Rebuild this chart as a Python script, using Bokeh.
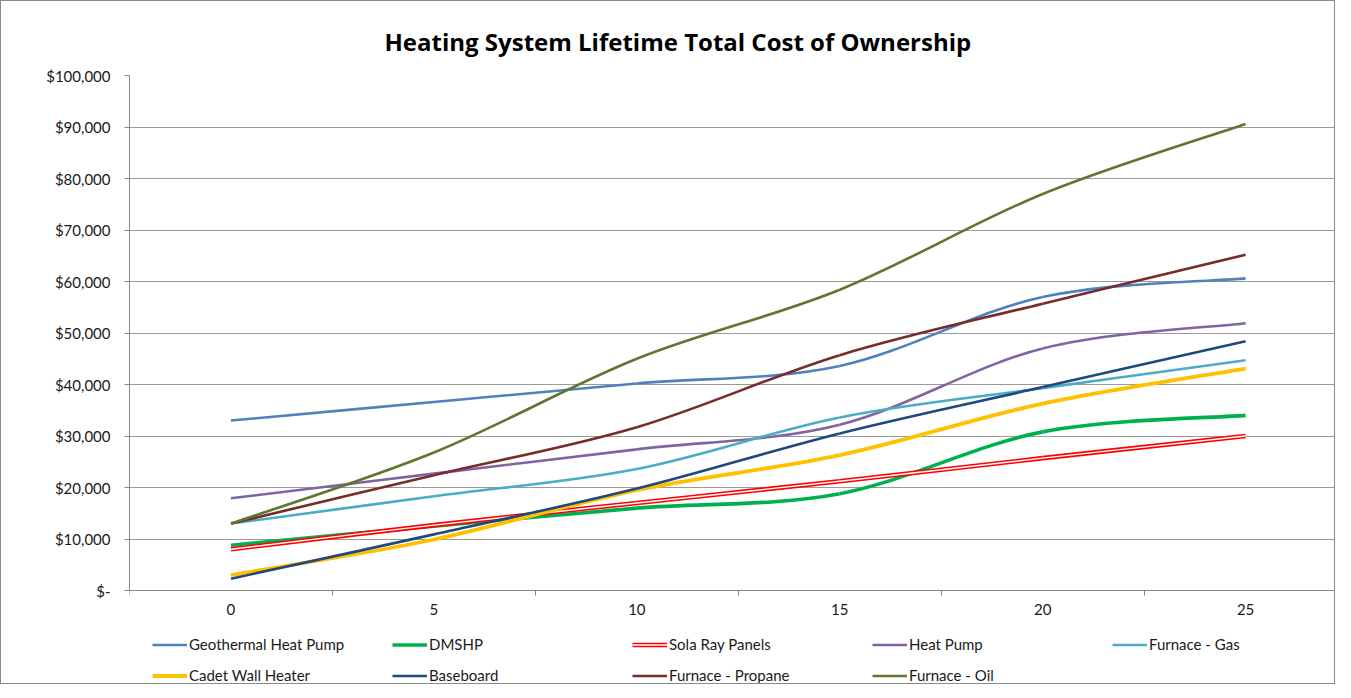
from bokeh.plotting import figure
from bokeh.models import Range1d, FixedTicker, Legend, LegendItem, ColumnDataSource
from bokeh.embed import file_html
from bokeh.resources import INLINE

# ---------------- data ----------------
years = [0, 5, 10, 15, 20, 25]
series_names = ["Geothermal Heat Pump", "DMSHP", "Sola Ray Panels", "Heat Pump", "Furnace - Gas",
                "Cadet Wall Heater", "Baseboard", "Furnace - Propane", "Furnace - Oil"]
geothermal = [33000, 36600, 40200, 43600, 57000, 60600]
dmshp = [8800, 12500, 16000, 18800, 30800, 34000]
sola_ray = [8000, 12700, 17000, 21200, 25700, 30000]
heat_pump = [17900, 22700, 27400, 32200, 47000, 51900]
furnace_gas = [13000, 18300, 23600, 33600, 39300, 44700]
cadet = [3000, 9900, 19500, 26300, 36300, 43100]
baseboard = [2300, 10900, 19800, 30500, 39500, 48400]
propane = [13000, 22400, 31700, 45700, 55700, 65200]
oil = [13000, 26800, 45000, 58400, 77000, 90600]
y_tick_values = [0, 10000, 20000, 30000, 40000, 50000, 60000, 70000, 80000, 90000, 100000]
y_tick_labels = ["$-", "$10,000", "$20,000", "$30,000", "$40,000", "$50,000",
                 "$60,000", "$70,000", "$80,000", "$90,000", "$100,000"]
title_text = "Heating System Lifetime Total Cost of Ownership"

all_values = [geothermal, dmshp, sola_ray, heat_pump, furnace_gas, cadet, baseboard, propane, oil]
colors = ["#4F81BD", "#00B050", "#FF0000", "#8064A2", "#4BACC6", "#FFC000", "#1F497D", "#772C2A", "#5F7530"]
widths = [2.6, 3.6, 4.6, 2.6, 2.6, 3.8, 2.6, 2.6, 2.6]

FONT = "Lato"

# plot geometry (pixels): value axis 0..100000 spans 515 px, legend area below it
FRAME_H, AXIS_H, BELOW_H = 608, 515, 93
Y_LOW = -100000 * BELOW_H / AXIS_H


def smooth_segments(xs, ys):
    """Bezier segments (Excel-like smoothed line) through the given points."""
    n = len(xs)
    d = dict(x0=[], y0=[], x1=[], y1=[], cx0=[], cy0=[], cx1=[], cy1=[])
    for i in range(n - 1):
        a, b = max(i - 1, 0), min(i + 2, n - 1)
        d["x0"].append(xs[i]); d["y0"].append(ys[i])
        d["x1"].append(xs[i + 1]); d["y1"].append(ys[i + 1])
        d["cx0"].append(xs[i] + (xs[i + 1] - xs[a]) / 6.0)
        d["cy0"].append(ys[i] + (ys[i + 1] - ys[a]) / 6.0)
        d["cx1"].append(xs[i + 1] - (xs[b] - xs[i]) / 6.0)
        d["cy1"].append(ys[i + 1] - (ys[b] - ys[i]) / 6.0)
    return ColumnDataSource(d)


p = figure(frame_width=1205, frame_height=FRAME_H, output_backend="svg", toolbar_location=None,
           x_range=Range1d(-2.5, 27.19), y_range=Range1d(Y_LOW, 100000),
           min_border_left=128, min_border_right=0, min_border_top=74, min_border_bottom=0,
           background_fill_color="white", border_fill_color="white",
           styles={"border": "1px solid #8a8a8a"})
p.outline_line_color = None

# title
p.title.text = title_text
p.title.align = "left"
p.title.offset = 255
p.title.standoff = 35
p.title.text_font = "Open Sans"
p.title.text_font_style = "bold"
p.title.text_font_size = "24px"
p.title.text_color = "black"

# axes
p.xaxis.fixed_location = 0
p.xaxis.ticker = FixedTicker(ticks=years, minor_ticks=[t - 2.5 for t in years] + [27.5])
p.xaxis.major_tick_line_color = None
p.xaxis.major_tick_out = 0
p.xaxis.major_tick_in = 0
p.xaxis.minor_tick_out = 5
p.xaxis.minor_tick_in = 0
p.xaxis.minor_tick_line_color = "#868686"
p.xaxis.axis_line_color = "#868686"
p.xaxis.major_label_standoff = 8

p.yaxis.ticker = FixedTicker(ticks=y_tick_values)
p.yaxis.bounds = (0, 100000)
p.yaxis.major_label_overrides = {v: s for v, s in zip(y_tick_values, y_tick_labels)}
p.yaxis.major_tick_out = 5
p.yaxis.major_tick_in = 0
p.yaxis.minor_tick_line_color = None
p.yaxis.major_tick_line_color = "#868686"
p.yaxis.axis_line_color = "#868686"
p.yaxis.major_label_standoff = 14

for ax in (p.xaxis, p.yaxis):
    ax.major_label_text_font = FONT
    ax.major_label_text_font_size = "15px"
    ax.major_label_text_color = "#1a1a1a"

p.xgrid.grid_line_color = None
p.ygrid.ticker = FixedTicker(ticks=y_tick_values)
p.ygrid.grid_line_color = "#9a9a9a"
p.ygrid.grid_line_width = 1

# series
items = []
for name, vals, col, w in zip(series_names, all_values, colors, widths):
    src = smooth_segments(years, vals)
    r = p.bezier(x0="x0", y0="y0", x1="x1", y1="y1", cx0="cx0", cy0="cy0", cx1="cx1", cy1="cy1",
                 source=src, line_color=col, line_width=w)
    rends = [r]
    if name == "Sola Ray Panels":
        r2 = p.bezier(x0="x0", y0="y0", x1="x1", y1="y1", cx0="cx0", cy0="cy0", cx1="cx1", cy1="cy1",
                      source=src, line_color="white", line_width=1.4)
        rends.append(r2)
    items.append(LegendItem(label=name, renderers=rends))

legend = Legend(items=items, ncols=5, orientation="horizontal", location=(23, -1),
                glyph_width=35, glyph_height=17, label_width=190, label_height=17,
                label_standoff=2, spacing=13, padding=0, margin=0,
                border_line_color=None, background_fill_alpha=0,
                label_text_font=FONT, label_text_font_size="15px", label_text_color="#1a1a1a")
p.add_layout(legend)

open("out.html", "w").write(file_html(p, INLINE))
